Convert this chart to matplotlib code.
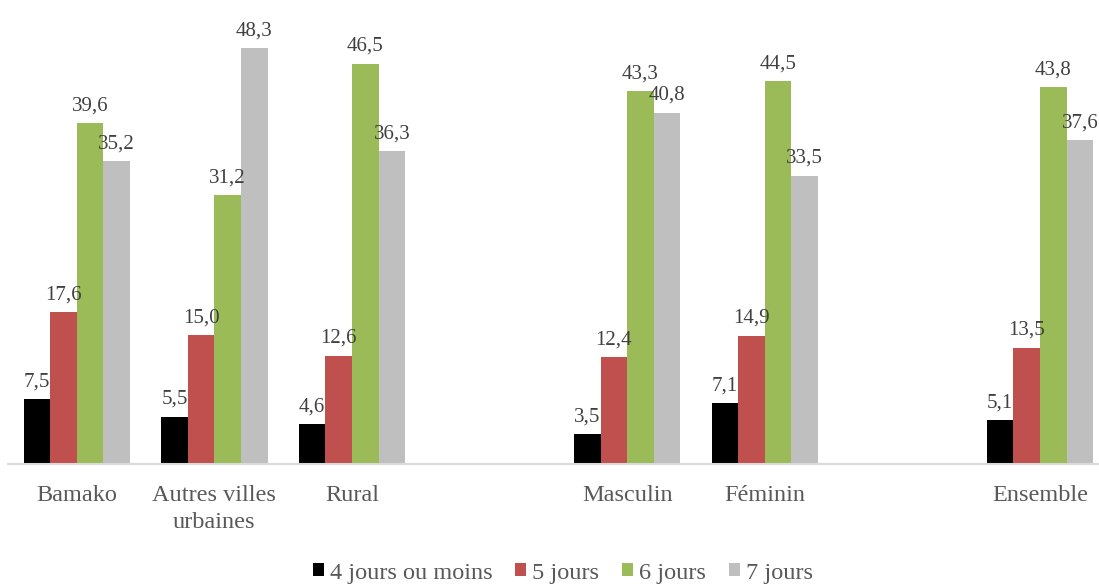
import matplotlib.pyplot as plt
import numpy as np

# categories (empty strings are the gaps between the groups)
categories = ['Bamako', 'Autres villes\nurbaines', 'Rural', '', 'Masculin', 'Féminin', '', 'Ensemble']
series_names = ['4 jours ou moins', '5 jours', '6 jours', '7 jours']
jours_4 = [7.5, 5.5, 4.6, None, 3.5, 7.1, None, 5.1]
jours_5 = [17.6, 15.0, 12.6, None, 12.4, 14.9, None, 13.5]
jours_6 = [39.6, 31.2, 46.5, None, 43.3, 44.5, None, 43.8]
jours_7 = [35.2, 48.3, 36.3, None, 40.8, 33.5, None, 37.6]
colors = ['#000000', '#C0504D', '#9BBB59', '#BFBFBF']

plt.rcParams['font.family'] = ['Liberation Serif', 'DejaVu Serif']

W, H = 1099, 586
fig = plt.figure(figsize=(W / 100, H / 100), dpi=100)
slot = 137.6
left_px, base_px = 8, 464
ymax = 50
unit = 8.61
ax = fig.add_axes([left_px / W, (H - base_px) / H, (W - left_px) / W, ymax * unit / H])

x = np.arange(len(categories))
bw = 0.193
all_series = [jours_4, jours_5, jours_6, jours_7]
handles = []
for i, (vals, name, col) in enumerate(zip(all_series, series_names, colors)):
    xs = [xi + (i - 1.5) * bw for xi, v in zip(x, vals) if v is not None]
    vs = [v for v in vals if v is not None]
    b = ax.bar(xs, vs, width=bw, color=col, label=name, zorder=2)
    handles.append(b)
    for xx, v in zip(xs, vs):
        ax.text(xx, v + 0.9, f'{v:.1f}'.replace('.', ','), ha='center', va='bottom',
                fontsize=15, color='#404040')

ax.set_xlim(-0.5, (W - left_px) / slot - 0.5)
ax.set_ylim(0, ymax)
ax.set_xticks(x)
ax.set_xticklabels(categories, fontsize=17.5, color='#595959', linespacing=1.4)
ax.tick_params(axis='x', length=0, pad=15)
ax.set_yticks([])
for s in ['top', 'right', 'left']:
    ax.spines[s].set_visible(False)
ax.spines['bottom'].set_color('#D9D9D9')
ax.spines['bottom'].set_linewidth(1.5)

fig.legend(handles=handles, loc='center', bbox_to_anchor=(563 / W, (H - 573) / H), ncol=4,
           frameon=False, fontsize=17.5, handlelength=0.45, handleheight=0.45,
           handletextpad=0.25, columnspacing=0.95, labelcolor='#595959')

fig.savefig('out.png', dpi=100)
